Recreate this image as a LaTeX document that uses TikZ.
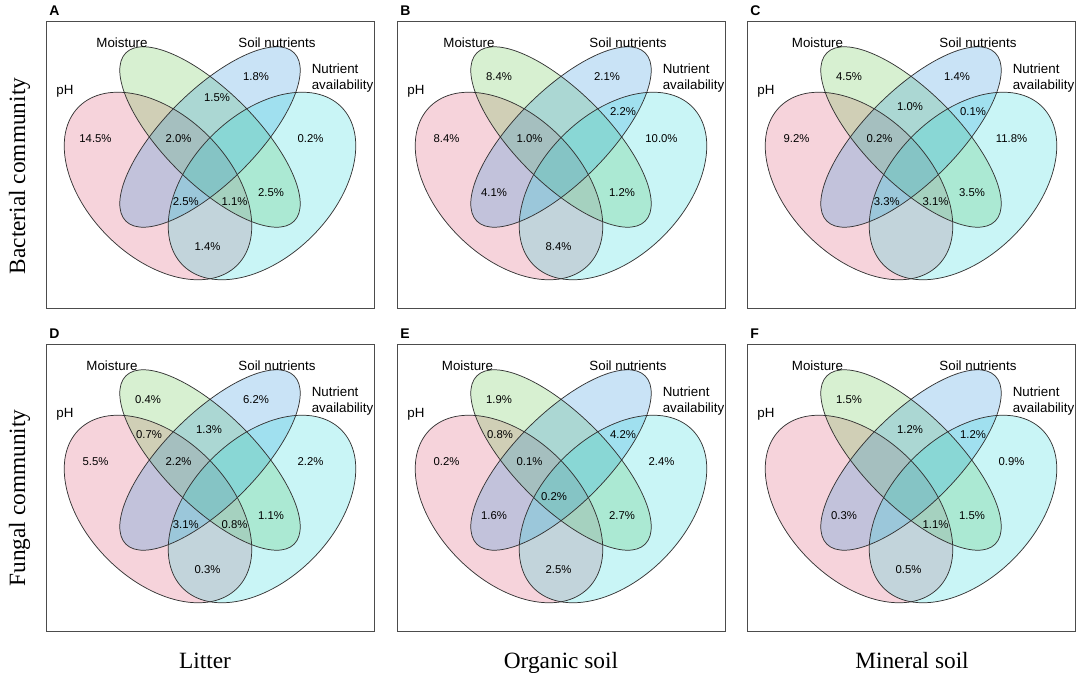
\documentclass[tikz,border=0pt]{standalone}
\usepackage{fontspec}
\setmainfont{Liberation Serif}
\setsansfont{Liberation Sans}

\definecolor{phcol}{RGB}{219,79,111}
\definecolor{mocol}{RGB}{95,195,71}
\definecolor{socol}{RGB}{39,143,219}
\definecolor{nacol}{RGB}{39,215,219}

\tikzset{
  frame/.style={draw=black!70, line width=0.7pt},
  venn/.style={draw=black!80, line width=0.55pt},
  setfill/.style={fill=#1, fill opacity=0.25},
  pct/.style={font=\sffamily\fontsize{8.5}{10}\selectfont, inner sep=0pt},
  setname/.style={font=\sffamily\fontsize{10}{11.6}\selectfont, inner sep=0pt},
  tag/.style={font=\sffamily\bfseries\fontsize{10.5}{12}\selectfont, anchor=base west, inner sep=0pt},
  axislabel/.style={font=\fontsize{17.5}{20}\selectfont, anchor=base, inner sep=0pt}
}

% one panel: frame, four ellipses, set names and the region points
% #1 panel letter, #2 x of the Moisture label
\newcommand{\vennbox}[2]{%
  \draw[frame] (0,0) rectangle (328,-287);
  \node[tag] (#1-tag) at (3,5) {#1};
  \fill[setfill=phcol, rotate around={-45:(112,-165)}] (112,-165) ellipse (112 and 71);
  \fill[setfill=mocol, rotate around={-45:(164,-116)}] (164,-116) ellipse (119 and 46);
  \fill[setfill=socol, rotate around={45:(164,-116)}] (164,-116) ellipse (119 and 46);
  \fill[setfill=nacol, rotate around={45:(216,-165)}] (216,-165) ellipse (112 and 71);
  \draw[venn, rotate around={-45:(112,-165)}] (112,-165) ellipse (112 and 71);
  \draw[venn, rotate around={-45:(164,-116)}] (164,-116) ellipse (119 and 46);
  \draw[venn, rotate around={45:(164,-116)}] (164,-116) ellipse (119 and 46);
  \draw[venn, rotate around={45:(216,-165)}] (216,-165) ellipse (112 and 71);
  \node[setname] (#1-ph) at (19,-70) {pH};
  \node[setname] (#1-mo) at (#2,-22) {Moisture};
  \node[setname] (#1-so) at (231,-22) {Soil nutrients};
  \node[setname, anchor=west, align=left] (#1-na) at (265.5,-57) {Nutrient\\availability};
  \coordinate (p) at (49.5,-117.5);
  \coordinate (m) at (102,-55.5);
  \coordinate (s) at (210,-55.5);
  \coordinate (n) at (264.5,-117.5);
  \coordinate (pm) at (103,-90.7);
  \coordinate (sn) at (226,-90.5);
  \coordinate (ms) at (163,-86);
  \coordinate (pms) at (132.5,-117.5);
  \coordinate (ps) at (97,-172);
  \coordinate (mn) at (225,-171.7);
  \coordinate (psn) at (139.8,-180.5);
  \coordinate (pmn) at (188.5,-180.5);
  \coordinate (pn) at (161.5,-225.5);
  \coordinate (pmsn) at (157,-152.7);
}

\begin{document}
\begin{tikzpicture}[x=0.75pt,y=0.75pt]
  \useasboundingbox (0,0) rectangle (1084,-673);

  \begin{scope}[shift={(46,-21)}]
    \vennbox{A}{76}
    \node[pct] (A-p) at (p) {14.5\%};
    \node[pct] (A-pms) at (pms) {2.0\%};
    \node[pct] (A-ms) at (171,-77) {1.5\%};
    \node[pct] (A-s) at (s) {1.8\%};
    \node[pct] (A-n) at (n) {0.2\%};
    \node[pct] (A-mn) at (mn) {2.5\%};
    \node[pct] (A-psn) at (psn) {2.5\%};
    \node[pct] (A-pmn) at (pmn) {1.1\%};
    \node[pct] (A-pn) at (pn) {1.4\%};
  \end{scope}

  \begin{scope}[shift={(397,-21)}]
    \vennbox{B}{72}
    \node[pct] (B-m) at (m) {8.4\%};
    \node[pct] (B-s) at (s) {2.1\%};
    \node[pct] (B-p) at (p) {8.4\%};
    \node[pct] (B-pms) at (pms) {1.0\%};
    \node[pct] (B-sn) at (sn) {2.2\%};
    \node[pct] (B-n) at (n) {10.0\%};
    \node[pct] (B-ps) at (ps) {4.1\%};
    \node[pct] (B-mn) at (mn) {1.2\%};
    \node[pct] (B-pn) at (pn) {8.4\%};
  \end{scope}

  \begin{scope}[shift={(747,-21)}]
    \vennbox{C}{70.5}
    \node[pct] (C-m) at (m) {4.5\%};
    \node[pct] (C-s) at (s) {1.4\%};
    \node[pct] (C-ms) at (ms) {1.0\%};
    \node[pct] (C-sn) at (sn) {0.1\%};
    \node[pct] (C-p) at (p) {9.2\%};
    \node[pct] (C-pms) at (pms) {0.2\%};
    \node[pct] (C-n) at (n) {11.8\%};
    \node[pct] (C-mn) at (mn) {3.5\%};
    \node[pct] (C-psn) at (psn) {3.3\%};
    \node[pct] (C-pmn) at (pmn) {3.1\%};
  \end{scope}

  \begin{scope}[shift={(46,-344)}]
    \vennbox{D}{66}
    \node[pct] (D-m) at (m) {0.4\%};
    \node[pct] (D-s) at (s) {6.2\%};
    \node[pct] (D-pm) at (pm) {0.7\%};
    \node[pct] (D-ms) at (ms) {1.3\%};
    \node[pct] (D-p) at (p) {5.5\%};
    \node[pct] (D-pms) at (pms) {2.2\%};
    \node[pct] (D-n) at (n) {2.2\%};
    \node[pct] (D-mn) at (mn) {1.1\%};
    \node[pct] (D-psn) at (psn) {3.1\%};
    \node[pct] (D-pmn) at (pmn) {0.8\%};
    \node[pct] (D-pn) at (pn) {0.3\%};
  \end{scope}

  \begin{scope}[shift={(397,-344)}]
    \vennbox{E}{70.5}
    \node[pct] (E-m) at (m) {1.9\%};
    \node[pct] (E-pm) at (pm) {0.8\%};
    \node[pct] (E-sn) at (sn) {4.2\%};
    \node[pct] (E-p) at (p) {0.2\%};
    \node[pct] (E-pms) at (pms) {0.1\%};
    \node[pct] (E-n) at (n) {2.4\%};
    \node[pct] (E-pmsn) at (pmsn) {0.2\%};
    \node[pct] (E-ps) at (ps) {1.6\%};
    \node[pct] (E-mn) at (mn) {2.7\%};
    \node[pct] (E-pn) at (pn) {2.5\%};
  \end{scope}

  \begin{scope}[shift={(747,-344)}]
    \vennbox{F}{70.5}
    \node[pct] (F-m) at (m) {1.5\%};
    \node[pct] (F-ms) at (ms) {1.2\%};
    \node[pct] (F-sn) at (sn) {1.2\%};
    \node[pct] (F-n) at (n) {0.9\%};
    \node[pct] (F-ps) at (ps) {0.3\%};
    \node[pct] (F-pmn) at (pmn) {1.1\%};
    \node[pct] (F-mn) at (mn) {1.5\%};
    \node[pct] (F-pn) at (pn) {0.5\%};
  \end{scope}

  \node[axislabel, rotate=90] (bact) at (25,-176) {Bacterial community};
  \node[axislabel, rotate=90] (fung) at (25,-498) {Fungal community};
  \node[axislabel] (litter) at (205,-668) {Litter};
  \node[axislabel] (organic) at (561,-668) {Organic soil};
  \node[axislabel] (mineral) at (912,-668) {Mineral soil};
\end{tikzpicture}
\end{document}
